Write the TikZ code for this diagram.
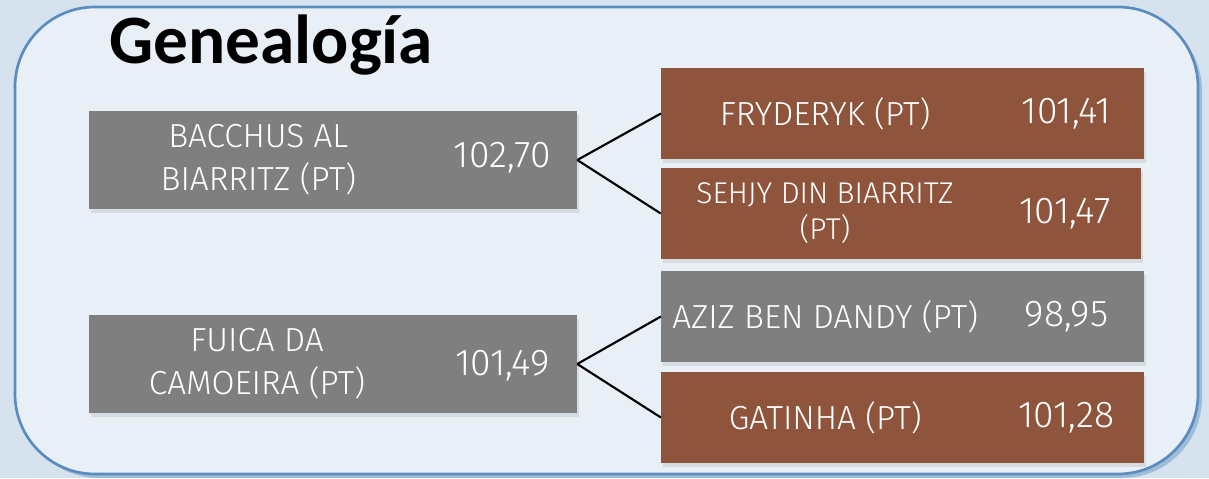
\documentclass[tikz,border=0pt]{standalone}
\usepackage{fontspec}
\usepackage{tikz}
\usetikzlibrary{positioning,shadows}
\newfontfamily\titlefont{Carlito}
\newfontfamily\boxfont{Fira Sans Light}
\definecolor{Frame}{HTML}{5B8CC0}
\definecolor{Paper}{HTML}{D6E3EE}
\definecolor{Panel}{HTML}{E9EFF7}
\definecolor{Slate}{HTML}{7F7F7F}
\definecolor{Rust}{HTML}{8F553C}
\tikzset{
  horse/.style={inner sep=0pt,minimum height=68pt,
    drop shadow={shadow xshift=1.5pt,shadow yshift=-3pt,opacity=0.18}},
  sire/.style={horse,fill=Slate,minimum width=366pt,minimum height=73.5pt},
  slatebox/.style={horse,fill=Slate,minimum width=362pt},
  rustbox/.style={horse,fill=Rust,minimum width=362pt},
  label/.style={text=white,font=\boxfont\fontsize{25}{32}\selectfont,align=center,inner sep=0pt},
  score/.style={label,font=\boxfont\fontsize{28}{32}\selectfont},
  link/.style={draw=black,line width=1.6pt}
}

\begin{document}
\begin{tikzpicture}[x=0.75pt,y=-0.75pt]
  \useasboundingbox[fill=Paper] (0,0) rectangle (1209,478);
  % panel
  \fill[Frame!45!Paper,rounded corners=60pt] (19,11) rectangle (1202,478);
  \draw[Frame,line width=2pt,fill=Panel,rounded corners=60pt] (15,7) rectangle (1198,474);
  \node[anchor=base west,inner sep=0pt,font=\titlefont\bfseries\fontsize{52}{60}\selectfont]
    (title) at (109,64) {Genealogía};

  % parents
  \node[sire] (bacchus) at (333,160) {};
  \node[sire] (fuica) at (333,364) {};
  % offspring
  \node[rustbox] (fryderyk) at (902.5,113.5) {};
  \node[rustbox,minimum width=360pt] (sehjy) at (901,213.5) {};
  \node[slatebox] (aziz) at (902.5,316.5) {};
  \node[rustbox] (gatinha) at (902.5,417.5) {};

  % texts
  \node[label] (bacchus-name) at ([xshift=-56pt]bacchus.center) {BACCHUS AL\\BIARRITZ (PT)};
  \node[score] (bacchus-val) at ([xshift=127pt,yshift=2pt]bacchus.center) {102,70};
  \node[label] (fuica-name) at ([xshift=-57pt]fuica.center) {FUICA DA\\CAMOEIRA (PT)};
  \node[score] (fuica-val) at ([xshift=127pt,yshift=-1pt]fuica.center) {101,49};
  \node[label] (fryderyk-name) at ([xshift=-58pt]fryderyk.center) {FRYDERYK (PT)};
  \node[score] (fryderyk-val) at ([xshift=123pt]fryderyk.center) {101,41};
  \node[label,font=\boxfont\fontsize{22.5}{27}\selectfont] (sehjy-name) at ([xshift=-57pt]sehjy.center) {SEHJY DIN BIARRITZ\\(PT)};
  \node[score] (sehjy-val) at ([xshift=123pt]sehjy.center) {101,47};
  \node[label] (aziz-name) at ([xshift=-58pt]aziz.center) {AZIZ BEN DANDY (PT)};
  \node[score] (aziz-val) at ([xshift=123pt]aziz.center) {98,95};
  \node[label] (gatinha-name) at ([xshift=-58pt]gatinha.center) {GATINHA (PT)};
  \node[score] (gatinha-val) at ([xshift=123pt]gatinha.center) {101,28};

  % connectors
  \draw[link] (bacchus.east) -- (fryderyk.west);
  \draw[link] (bacchus.east) -- (sehjy.west);
  \draw[link] (fuica.east) -- (aziz.west);
  \draw[link] (fuica.east) -- (gatinha.west);
\end{tikzpicture}
\end{document}
